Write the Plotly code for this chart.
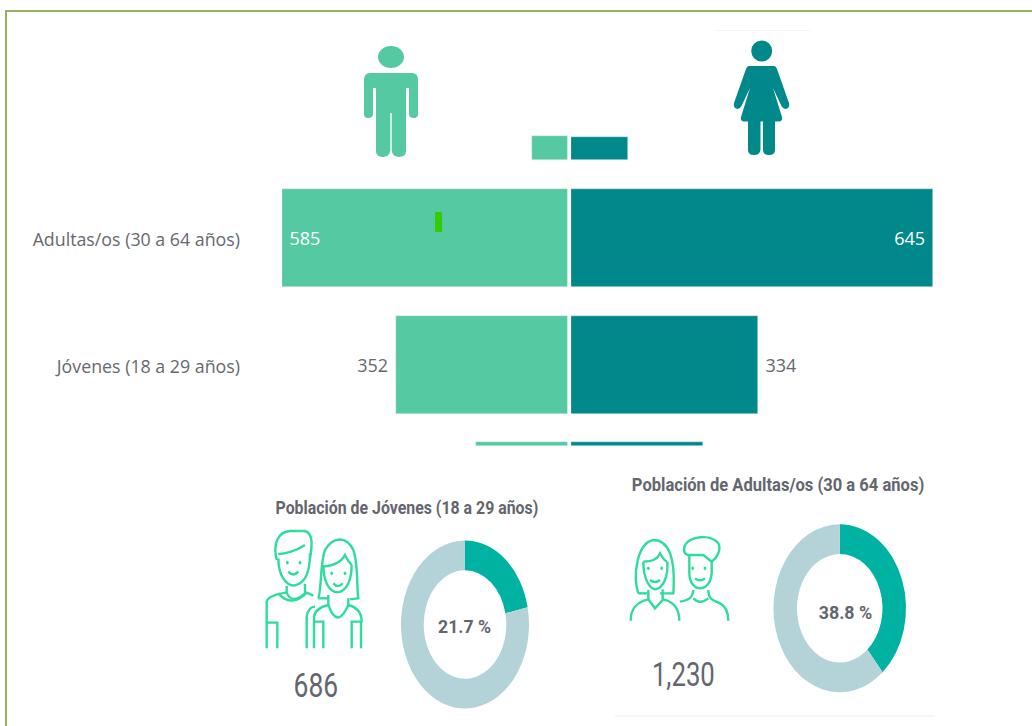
import plotly.graph_objects as go

W, H = 1032, 726
LIGHT = "#55C9A1"
DARK = "#00888A"
RING = "#B3D3D8"
TEAL = "#00B2A2"
ICON = "#2EDC9B"
TXT = "#66686E"
TITLE = "#63666E"
BORDER = "#94B25F"
MARK = "#33CC00"

categories = ["Jóvenes (18 a 29 años)", "Adultas/os (30 a 64 años)"]
hombres = [352, 585]
mujeres = [334, 645]
leyenda_h = [72]
leyenda_m = [101]
pie_h = [187]
pie_m = [235]
jovenes_pct = [21.7, 78.3]
adultos_pct = [38.8, 61.2]


def px(x):
    return x / W


def py(y):
    return 1 - y / H


def path(spec, ox=0, oy=0, k=1.0):
    """spec: tokens; numeric pairs in reference-pixel space mapped to paper."""
    out = []
    is_x = True
    for tok in spec.replace(",", " ").split():
        if tok.isalpha():
            out.append(tok)
            is_x = True
        else:
            v = float(tok)
            if is_x:
                out.append(f"{px(ox + v * k):.5f}")
            else:
                out.append(f"{py(oy + v * k):.5f}")
            is_x = not is_x
    return " ".join(out)


shapes = []


def filled(spec, color, **kw):
    shapes.append(dict(type="path", xref="paper", yref="paper", path=path(spec, **kw),
                       fillcolor=color, line=dict(width=0), layer="above"))


def stroke(spec, color=ICON, width=2.4, **kw):
    shapes.append(dict(type="path", xref="paper", yref="paper", path=path(spec, **kw),
                       line=dict(color=color, width=width), layer="above"))


def ellipse(cx, cy, rx, ry, color):
    shapes.append(dict(type="circle", xref="paper", yref="paper", x0=px(cx - rx), x1=px(cx + rx),
                       y0=py(cy + ry), y1=py(cy - ry), fillcolor=color, line=dict(width=0), layer="above"))


def rect(x0, y0, x1, y1, color):
    shapes.append(dict(type="rect", xref="paper", yref="paper", x0=px(x0), x1=px(x1),
                       y0=py(y1), y1=py(y0), fillcolor=color, line=dict(width=0), layer="above"))


# frame (top and left only, as in the reference crop)
rect(5, 10, 1032, 12, BORDER)
rect(5, 10, 7, 726, BORDER)
rect(715, 30, 810, 31, "#F4F4F4")
rect(615, 715, 935, 717, "#F6F6F6")
rect(435, 212, 442, 232, MARK)

# man
ellipse(391, 57, 13, 11, LIGHT)
filled("M 370 73 L 412 73 Q 418 73 418 80 L 418 114 Q 418 118 414 118 Q 409 118 409 114 L 409 88 "
       "L 406 88 L 406 151 Q 406 157 399 157 Q 393 157 391.7 151 L 391.7 113 L 390.3 113 L 390.3 151 "
       "Q 389 157 383 157 Q 376 157 376 151 L 376 88 L 373 88 L 373 114 Q 373 118 368 118 "
       "Q 364 118 364 114 L 364 80 Q 364 73 370 73 Z", LIGHT)
# woman
ellipse(761.7, 51, 10.5, 10.5, DARK)
filled("M 749 66 L 774 66 Q 776 66 777 69 L 789 103 Q 790 108 786 109 Q 783 109 781 105 L 773 88 "
       "L 782 117 Q 783 121 779 121.5 L 775 121.5 L 775 150 Q 775 155 769 155 Q 763 155 763 150 "
       "L 763 121.5 L 760.5 121.5 L 760.5 150 Q 760 155 754 155 Q 748 155 748 150 L 748 121.5 "
       "L 744 121.5 Q 740 121 741 117 L 750 88 L 742 105 Q 740 109 737 109 Q 733 108 734 103 "
       "L 746 69 Q 747 66 749 66 Z", DARK)

# boy & girl (jóvenes)
J = dict(ox=250, oy=430, k=1 / 3)
for s in [
    "M 80 390 C 68 340 85 305 120 303 L 165 303 C 188 310 188 340 180 385",
    "M 85 372 C 105 372 140 362 165 345",
    "M 85 385 C 85 445 115 470 135 466 C 165 460 180 425 180 370",
    "M 115 425 Q 130 442 145 425",
    "M 110 468 L 110 488 Q 125 525 165 490 L 165 462",
    "M 85 490 Q 125 535 170 488 L 190 497",
    "M 110 488 Q 55 495 50 515 L 50 655",
    "M 50 578 L 82 578 L 82 655",
    "M 170 655 L 170 560 Q 175 530 195 530",
    "M 205 505 C 215 480 210 400 225 360 C 250 318 290 318 310 360 C 325 400 320 480 325 505 L 300 508",
    "M 205 505 L 235 505",
    "M 220 410 Q 270 405 285 375 Q 295 395 305 405",
    "M 220 405 C 220 450 235 485 262 487 C 290 485 305 450 305 405",
    "M 250 460 Q 265 477 278 460",
    "M 235 495 L 235 525 Q 262 600 295 525 L 295 505",
    "M 192 655 L 192 560 Q 195 535 235 525",
    "M 295 525 Q 335 535 335 575 L 305 575 L 305 655",
    "M 333 575 L 333 655",
    "M 192 575 L 220 575 L 220 655",
]:
    stroke(s, **J)
for cx, cy in [(112, 398), (150, 398), (245, 430), (285, 430)]:
    ellipse(250 + cx / 3, 430 + cy / 3, 1.4, 1.8, ICON)

# woman & man (adultos)
A = dict(ox=610, oy=430, k=1 / 3)
for s in [
    "M 85 490 C 68 440 80 340 130 330 C 175 330 197 380 190 490 L 150 490",
    "M 85 490 L 112 490",
    "M 100 395 Q 140 395 150 370 Q 165 395 172 395",
    "M 100 395 C 100 450 120 475 135 478 C 160 475 175 440 172 395",
    "M 120 450 Q 135 462 150 450",
    "M 62 572 C 62 530 85 515 115 508 L 135 535 L 160 508 C 190 515 208 535 208 572",
    "M 115 480 L 115 508",
    "M 158 478 L 158 508",
    "M 225 345 C 240 320 300 310 325 340 C 335 360 320 385 305 395 L 280 375 L 238 375 C 225 375 218 365 225 345",
    "M 238 375 L 238 430 C 240 490 300 490 305 430 L 305 390",
    "M 255 445 Q 270 457 285 445",
    "M 210 515 C 235 510 248 505 250 480",
    "M 295 480 C 295 510 310 510 330 520 C 350 530 355 550 355 572",
    "M 250 505 Q 270 525 295 505",
]:
    stroke(s, **A)
for cx, cy in [(115, 415), (155, 415), (248, 415), (285, 415)]:
    ellipse(610 + cx / 3, 430 + cy / 3, 1.4, 1.8, ICON)

fig = go.Figure()


def band(y):
    return (365 - y) / 127


NB = "\u00a0"
common = dict(orientation="h", cliponaxis=False, hoverinfo="skip", showlegend=False)
labels = dict(textangle=0, constraintext="none", insidetextanchor="end",
              textposition=["outside", "inside"],
              outsidetextfont=dict(color=TXT, size=18, family="Open Sans"),
              insidetextfont=dict(color="white", size=18, family="Open Sans"))
fig.add_trace(go.Bar(y=[0, 1], x=hombres, marker_color=LIGHT, width=98 / 127, xaxis="x", yaxis="y",
                     text=[f"{hombres[0]}{NB}", f"{NB}{hombres[1]}"], **labels, **common))
fig.add_trace(go.Bar(y=[0, 1], x=mujeres, marker_color=DARK, width=98 / 127, xaxis="x2", yaxis="y",
                     text=[f"{NB}{mujeres[0]}", f"{mujeres[1]}{NB}"], **labels, **common))
fig.add_trace(go.Bar(y=[band(148)], x=leyenda_h, marker_color=LIGHT, width=24 / 127, xaxis="x", yaxis="y", **common))
fig.add_trace(go.Bar(y=[band(148)], x=leyenda_m, marker_color=DARK, width=23 / 127, xaxis="x2", yaxis="y", **common))
fig.add_trace(go.Bar(y=[band(443.5)], x=pie_h, marker_color=LIGHT, width=4 / 127, xaxis="x", yaxis="y", **common))
fig.add_trace(go.Bar(y=[band(443.5)], x=pie_m, marker_color=DARK, width=4 / 127, xaxis="x2", yaxis="y", **common))

pie = dict(sort=False, direction="clockwise", rotation=0, hole=0.645, textinfo="none", hoverinfo="skip",
           showlegend=False)
fig.add_trace(go.Pie(values=jovenes_pct, marker_colors=[TEAL, RING],
                     domain=dict(x=[px(401), px(529)], y=[py(624.5 + 64), py(624.5 - 64)]), **pie))
fig.add_trace(go.Pie(values=adultos_pct, marker_colors=[TEAL, RING],
                     domain=dict(x=[px(773.5), px(906)], y=[py(608.3 + 66.25), py(608.3 - 66.25)]), **pie))


def note(text, x, y, size, color=TITLE, family="Roboto", bold=False):
    return dict(text=f"<b>{text}</b>" if bold else text, x=px(x), y=py(y), xref="paper", yref="paper",
                showarrow=False, xanchor="center", yanchor="middle",
                font=dict(size=size, color=color, family=family))


annotations = [
    note("Población de Jóvenes (18 a 29 años)", 406.5, 508, 18, bold=True),
    note("Población de Adultas/os (30 a 64 años)", 778, 485, 18, bold=True),
    note("686", 315.5, 685, 33),
    note("1,230", 683, 674, 33),
    note("21.7 %", 464, 626, 19, bold=True),
    note("38.8 %", 845, 612, 19, bold=True),
]
note_squeeze = [0.883, 0.92, 0.80, 0.78, 0.93, 0.94]

fig.update_layout(
    width=W, height=H, margin=dict(l=0, r=0, t=0, b=0), paper_bgcolor="white", plot_bgcolor="rgba(0,0,0,0)",
    autosize=False, barmode="overlay", bargap=0, shapes=shapes, annotations=annotations,
    xaxis=dict(domain=[px(282), px(567.5)], range=[585, 0], visible=False, fixedrange=True),
    xaxis2=dict(domain=[px(571), px(933)], range=[0, 645], visible=False, fixedrange=True, anchor="y"),
    yaxis=dict(domain=[py(460), py(120)], range=[band(460), band(120)], tickmode="array", tickvals=[0, 1],
               ticktext=categories, showgrid=False, zeroline=False, showline=False, ticks="",
               ticklabelstandoff=41, ticklabelshift=2,
               anchor="x", tickfont=dict(size=17.8, color=TXT, family="Open Sans"), fixedrange=True),
)

post = """
document.body.style.margin = '0';
var pieSpec = [[465, 624.5, 84 / 64], [839.75, 608.3, 84 / 66.25]];
document.querySelectorAll('.pielayer .trace').forEach(function (g, i) {
  var s = pieSpec[i];
  g.setAttribute('transform', 'translate(' + s[0] + ' ' + s[1] + ') scale(1 ' + s[2] + ') translate(' + (-s[0]) + ' ' + (-s[1]) + ')');
});
var squeeze = %s;
document.querySelectorAll('.annotation').forEach(function (g, i) {
  var b = g.getBBox();
  var cx = b.x + b.width / 2;
  g.setAttribute('transform', 'translate(' + cx + ' 0) scale(' + squeeze[i] + ' 1) translate(' + (-cx) + ' 0)');
});
""" % note_squeeze
fig.write_html("out.html", post_script=post, config=dict(displayModeBar=False))
